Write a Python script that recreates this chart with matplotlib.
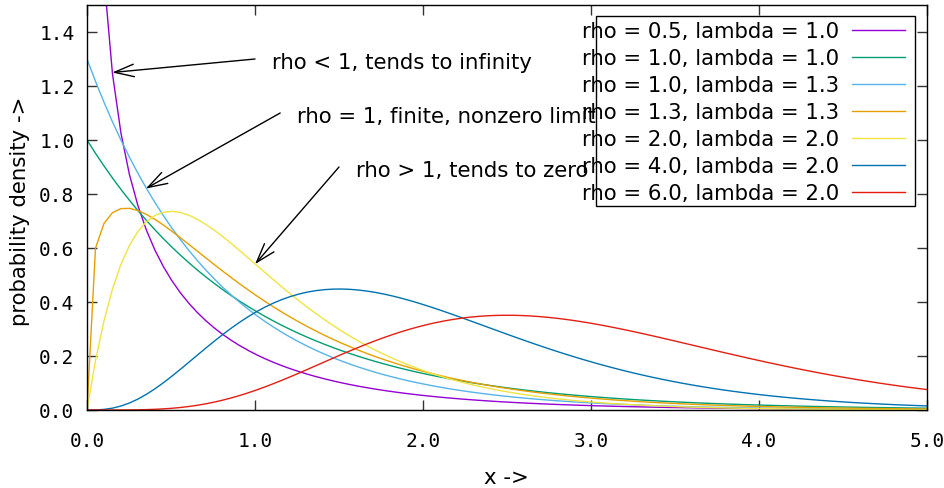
import math
import numpy as np
import matplotlib
matplotlib.use("Agg")
import matplotlib.pyplot as plt
import matplotlib.transforms as mtransforms
from matplotlib.patches import Rectangle, ArrowStyle
from matplotlib.lines import Line2D

# ---- data (gamma distribution parameters shown in the legend) ----
rho_values = [0.5, 1.0, 1.0, 1.3, 2.0, 4.0, 6.0]
lambda_values = [1.0, 1.0, 1.3, 1.3, 2.0, 2.0, 2.0]
series_labels = ["rho = 0.5, lambda = 1.0", "rho = 1.0, lambda = 1.0",
                 "rho = 1.0, lambda = 1.3", "rho = 1.3, lambda = 1.3",
                 "rho = 2.0, lambda = 2.0", "rho = 4.0, lambda = 2.0",
                 "rho = 6.0, lambda = 2.0"]
colors = ["#9400d3", "#009e73", "#56b4e9", "#e69f00", "#f0e442", "#0072b2", "#e51e10"]
xticks = [0.0, 1.0, 2.0, 3.0, 4.0, 5.0]
yticks = [0.0, 0.2, 0.4, 0.6, 0.8, 1.0, 1.2, 1.4]
annot_texts = ["rho < 1, tends to infinity", "rho = 1, finite, nonzero limit",
               "rho > 1, tends to zero"]
annot_text_pos = [(1.1, 1.3), (1.25, 1.1), (1.6, 0.9)]
annot_arrow_from = [(1.0, 1.3), (1.15, 1.1), (1.5, 0.9)]
annot_arrow_to = [(0.15, 1.25), (0.35, 0.82), (1.0, 0.54)]
n_samples = 100

W, H = 945, 489
fig = plt.figure(figsize=(W / 100, H / 100), dpi=100)
L, R, T, B = 87, 927, 6, 411
ax = fig.add_axes([L / W, 1 - B / H, (R - L) / W, (B - T) / H])

def gamma_pdf(x, k, lam):
    with np.errstate(divide="ignore", invalid="ignore"):
        y = lam ** k * x ** (k - 1) * np.exp(-lam * x) / math.gamma(k)
    y[~np.isfinite(y)] = np.nan
    return y

xs = np.linspace(0, 5, n_samples)
for k, lam, c in zip(rho_values, lambda_values, colors):
    ax.plot(xs, gamma_pdf(xs, k, lam), color=c, lw=1.0, zorder=2)

ax.set_xlim(0, 5)
ax.set_ylim(0, 1.5)
ax.set_xticks(xticks)
ax.set_xticklabels([f"{v:.1f}" for v in xticks])
ax.set_yticks(yticks)
ax.set_yticklabels([f"{v:.1f}" for v in yticks])
ax.tick_params(direction="in", length=7, width=1.0, top=True, right=True,
               color="#333333")
ax.tick_params(axis="x", pad=15)
ax.tick_params(axis="y", pad=9)
for lab in ax.get_xticklabels() + ax.get_yticklabels():
    lab.set_fontfamily("DejaVu Sans Mono")
    lab.set_fontsize(14)
for s in ax.spines.values():
    s.set_linewidth(1.0)
    s.set_color("black")

FS = 15.3
fig.text(506 / W, 1 - 478 / H, "x ->", fontsize=FS, ha="center", va="center")
fig.text(20 / W, 1 - 211 / H, "probability density ->", fontsize=FS,
         ha="center", va="center", rotation=90)

arrst = ArrowStyle("->", head_length=1.4, head_width=0.45)
txt_trans = mtransforms.offset_copy(ax.transData, fig=fig, x=0, y=-3, units="dots")
for txt, tp, af, at in zip(annot_texts, annot_text_pos, annot_arrow_from, annot_arrow_to):
    ax.text(tp[0], tp[1], txt, fontsize=FS, ha="left", va="center", zorder=3,
            transform=txt_trans)
    ax.annotate("", xy=at, xytext=af,
                arrowprops=dict(arrowstyle=arrst, lw=1.0, color="black",
                                shrinkA=0, shrinkB=0, mutation_scale=10), zorder=3)

# legend drawn manually (gnuplot style, opaque box, text right-aligned, sample on right)
def fpt(x, y):
    return (x / W, 1 - y / H)

bx0, by0, bx1, by1 = 596, 17, 915, 207
box = Rectangle(fpt(bx0, by1), (bx1 - bx0) / W, (by1 - by0) / H,
                transform=fig.transFigure, facecolor="white", edgecolor="black",
                lw=1.0, zorder=10)
fig.add_artist(box)
row_y = [31, 58, 85, 112, 139, 166, 193]
for lab, c, yy in zip(series_labels, colors, row_y):
    fig.text(*fpt(839, yy + 1), lab, fontsize=FS, ha="right", va="center", zorder=11)
    fig.add_artist(Line2D([852 / W, 905 / W], [1 - yy / H, 1 - yy / H],
                          transform=fig.transFigure, color=c, lw=1.0, zorder=11))

fig.savefig("out.png", dpi=100)
